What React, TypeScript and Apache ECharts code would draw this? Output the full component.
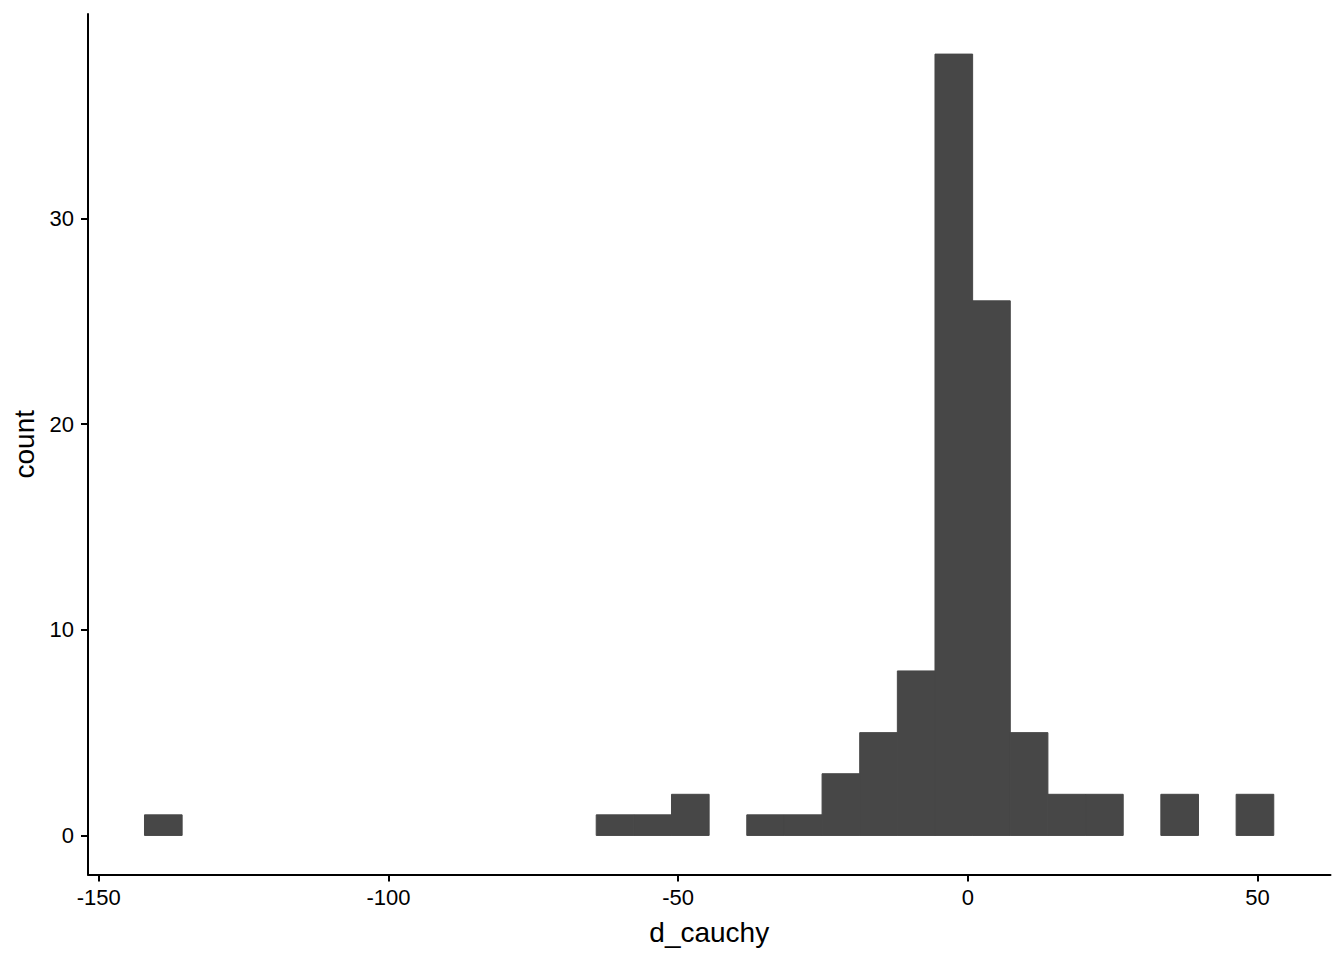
import React, { useEffect, useRef } from "react";
import * as echarts from "echarts";

// Histogram of d_cauchy (30 bins)
const binStart = -142.1;
const binWidth = 6.497;
const counts = [1, 0, 0, 0, 0, 0, 0, 0, 0, 0, 0, 0, 1, 1, 2, 0, 1, 1, 3, 5, 8, 38, 26, 5, 2, 2, 0, 2, 0, 2];
const xTicks = [-150, -100, -50, 0, 50];
const yTicks = [0, 10, 20, 30];
const xTitle = "d_cauchy";
const yTitle = "count";

const FONT = "'Liberation Sans', Arial, Helvetica, sans-serif";
const BAR = "#474747";

export default function App() {
  const ref = useRef<HTMLDivElement>(null);

  useEffect(() => {
    if (!ref.current) return;
    const chart = echarts.init(ref.current, undefined, { renderer: "svg" });
    const data = counts
      .map((c, i) => [binStart + i * binWidth, binStart + (i + 1) * binWidth, c])
      .filter((d) => d[2] > 0);

    chart.setOption({
      animation: false,
      backgroundColor: "#ffffff",
      grid: {
        left: 88,
        right: 13.5,
        top: 14,
        bottom: 85.5,
        containLabel: false,
        outerBoundsMode: "none",
      },
      xAxis: {
        type: "value",
        min: -151.85,
        max: 62.6,
        name: xTitle,
        nameLocation: "middle",
        nameGap: 44,
        nameTextStyle: { color: "#000", fontSize: 28, fontFamily: FONT },
        axisLine: { show: true, onZero: false, lineStyle: { color: "#000", width: 2 } },
        axisTick: { show: true, customValues: xTicks, length: 7, lineStyle: { color: "#000", width: 2 } },
        axisLabel: {
          customValues: xTicks,
          color: "#000",
          fontSize: 22,
          fontFamily: FONT,
          margin: 12,
        },
        splitLine: { show: false },
      },
      yAxis: {
        type: "value",
        min: -1.9,
        max: 39.95,
        name: yTitle,
        nameLocation: "middle",
        nameRotate: 90,
        nameGap: 48,
        nameTextStyle: { color: "#000", fontSize: 28, fontFamily: FONT },
        axisLine: { show: true, onZero: false, lineStyle: { color: "#000", width: 2 } },
        axisTick: { show: true, customValues: yTicks, length: 7, lineStyle: { color: "#000", width: 2 } },
        axisLabel: {
          customValues: yTicks,
          color: "#000",
          fontSize: 22,
          fontFamily: FONT,
          margin: 14,
        },
        splitLine: { show: false },
      },
      series: [
        {
          type: "custom",
          data,
          encode: { x: [0, 1], y: 2 },
          renderItem: (params: any, api: any) => {
            const x0 = api.value(0);
            const x1 = api.value(1);
            const c = api.value(2);
            const p0 = api.coord([x0, c]);
            const p1 = api.coord([x1, 0]);
            return {
              type: "rect",
              shape: { x: p0[0], y: p0[1], width: p1[0] - p0[0], height: p1[1] - p0[1] },
              style: { fill: BAR, stroke: BAR, lineWidth: 1 },
            };
          },
        },
      ],
    });

    return () => chart.dispose();
  }, []);

  return (
    <div
      ref={ref}
      style={{ position: "fixed", left: 0, top: 0, width: 1344, height: 960, background: "#fff" }}
    />
  );
}
